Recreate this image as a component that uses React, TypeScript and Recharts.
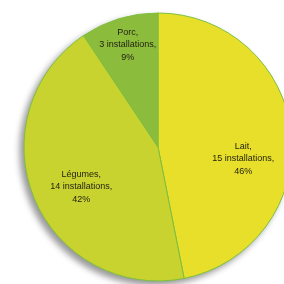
import React from 'react';
import { PieChart, Pie, Cell } from 'recharts';

const categories = ['Lait', 'Légumes', 'Porc'];
const installations = [15, 14, 3];
const percentLabels = ['46%', '42%', '9%'];

const COLORS = ['#E8DF2A', '#C9D32F', '#8CBC3C'];
const RAD = Math.PI / 180;

// label radius (fraction of outer radius) and vertical nudge per slice
const LABEL_R = [0.64, 0.62, 0.78];
const LABEL_DY = [22, 10, 0];

const data = categories.map((name, i) => ({
  name,
  value: installations[i],
  pct: percentLabels[i],
}));

const renderLabel = (props: any) => {
  const { cx, cy, midAngle, outerRadius, index } = props;
  const r = outerRadius * LABEL_R[index];
  const x = cx + r * Math.cos(-midAngle * RAD);
  const y = cy + r * Math.sin(-midAngle * RAD) + LABEL_DY[index];
  const d = data[index];
  const lines = [`${d.name},`, `${d.value} installations,`, d.pct];
  return (
    <text
      x={x}
      y={y - 12}
      textAnchor="middle"
      fontSize={9}
      fill="#1f1f10"
      fontFamily="'Liberation Sans', Arial, sans-serif"
    >
      {lines.map((l, k) => (
        <tspan key={k} x={x} dy={k === 0 ? 0 : 12.5}>
          {l}
        </tspan>
      ))}
    </text>
  );
};

export default function App() {
  return (
    <div
      style={{
        position: 'absolute',
        left: 0,
        top: 0,
        width: 284,
        height: 284,
        overflow: 'hidden',
        background: '#ffffff',
      }}
    >
      <div style={{ filter: 'drop-shadow(-4px 4px 3px rgba(0,0,0,0.4))' }}>
        <PieChart width={284} height={284} margin={{ top: 0, right: 0, bottom: 0, left: 0 }}>
          <Pie
            data={data}
            dataKey="value"
            nameKey="name"
            cx={158}
            cy={147}
            outerRadius={134}
            startAngle={90}
            endAngle={-270}
            stroke="#7DBF3E"
            strokeWidth={1}
            label={renderLabel}
            labelLine={false}
            isAnimationActive={false}
          >
            {data.map((d, i) => (
              <Cell key={d.name} fill={COLORS[i]} />
            ))}
          </Pie>
        </PieChart>
      </div>
    </div>
  );
}
